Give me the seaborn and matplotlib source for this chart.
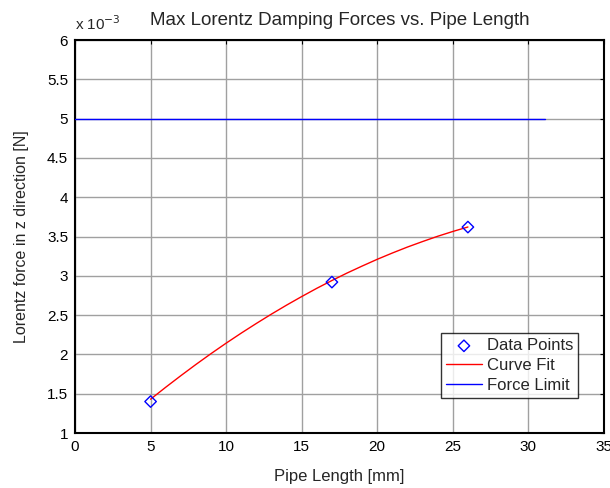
import matplotlib
matplotlib.use("Agg")
import matplotlib.pyplot as plt
import seaborn as sns
import pandas as pd

# Data (force values in units of 1e-3 N)
pipe_length = [5, 17, 26]
force = [1.40, 2.92, 3.62]

fit_x = [5, 6, 7, 8, 9, 10, 11, 12, 13, 14, 15, 16, 17, 18, 19, 20, 21, 22, 23, 24, 25, 26]
fit_y = [1.430, 1.582, 1.729, 1.872, 2.010, 2.143, 2.271, 2.394, 2.513, 2.627, 2.736,
         2.841, 2.940, 3.035, 3.124, 3.210, 3.290, 3.366, 3.436, 3.503, 3.564, 3.621]

limit_x = [0, 31.1]
limit_y = [5.0, 5.0]

x_ticks = [0, 5, 10, 15, 20, 25, 30, 35]
y_ticks = [1, 1.5, 2, 2.5, 3, 3.5, 4, 4.5, 5, 5.5, 6]

sns.set_style("white")
plt.rcParams['font.family'] = ['Liberation Sans', 'DejaVu Sans']

fig = plt.figure(figsize=(6.1, 4.88), dpi=100)
ax = fig.add_axes([0.123, 0.1127, 0.867, 0.8053])

pts = pd.DataFrame({"x": pipe_length, "y": force})
fit = pd.DataFrame({"x": fit_x, "y": fit_y})
lim = pd.DataFrame({"x": limit_x, "y": limit_y})

sns.scatterplot(data=pts, x="x", y="y", ax=ax, marker="D", s=34,
                facecolor="none", edgecolor="blue", linewidth=1.0,
                label="Data Points", zorder=4)
sns.lineplot(data=fit, x="x", y="y", ax=ax, color="red", linewidth=1.0,
             label="Curve Fit", zorder=3)
sns.lineplot(data=lim, x="x", y="y", ax=ax, color="blue", linewidth=1.0,
             label="Force Limit", zorder=3)

ax.set_xlim(0, 35)
ax.set_ylim(1, 6)
ax.set_xticks(x_ticks)
ax.set_yticks(y_ticks)
ax.set_xticklabels([str(t) for t in x_ticks])
ax.set_yticklabels([f"{t:g}" for t in y_ticks])
ax.grid(True, color="#a0a0a0", linewidth=1.0, linestyle="-")
ax.set_axisbelow(True)
for s in ax.spines.values():
    s.set_visible(True)
    s.set_color("black")
    s.set_linewidth(1.5)
ax.tick_params(direction="in", length=3, width=0.8, top=True, right=True,
               labelsize=11, colors="black", pad=5)

ax.set_xlabel("Pipe Length [mm]", fontsize=12, labelpad=11)
ax.set_ylabel("Lorentz force in z direction [N]", fontsize=11.5, labelpad=13)
ax.set_title("Max Lorentz Damping Forces vs. Pipe Length", fontsize=13.5, pad=11)
ax.text(0.0, 1.018, r"x 10$^{-3}$", transform=ax.transAxes, fontsize=11,
        ha="left", va="bottom")

leg = ax.legend(loc="upper left", bbox_to_anchor=(0.692, 0.254), frameon=True,
                fancybox=False, edgecolor="black", fontsize=12,
                borderpad=0.3, labelspacing=0.3, handlelength=2.15,
                handletextpad=0.3, borderaxespad=0)
leg.get_frame().set_linewidth(1.0)

fig.savefig("out.png", dpi=100)
